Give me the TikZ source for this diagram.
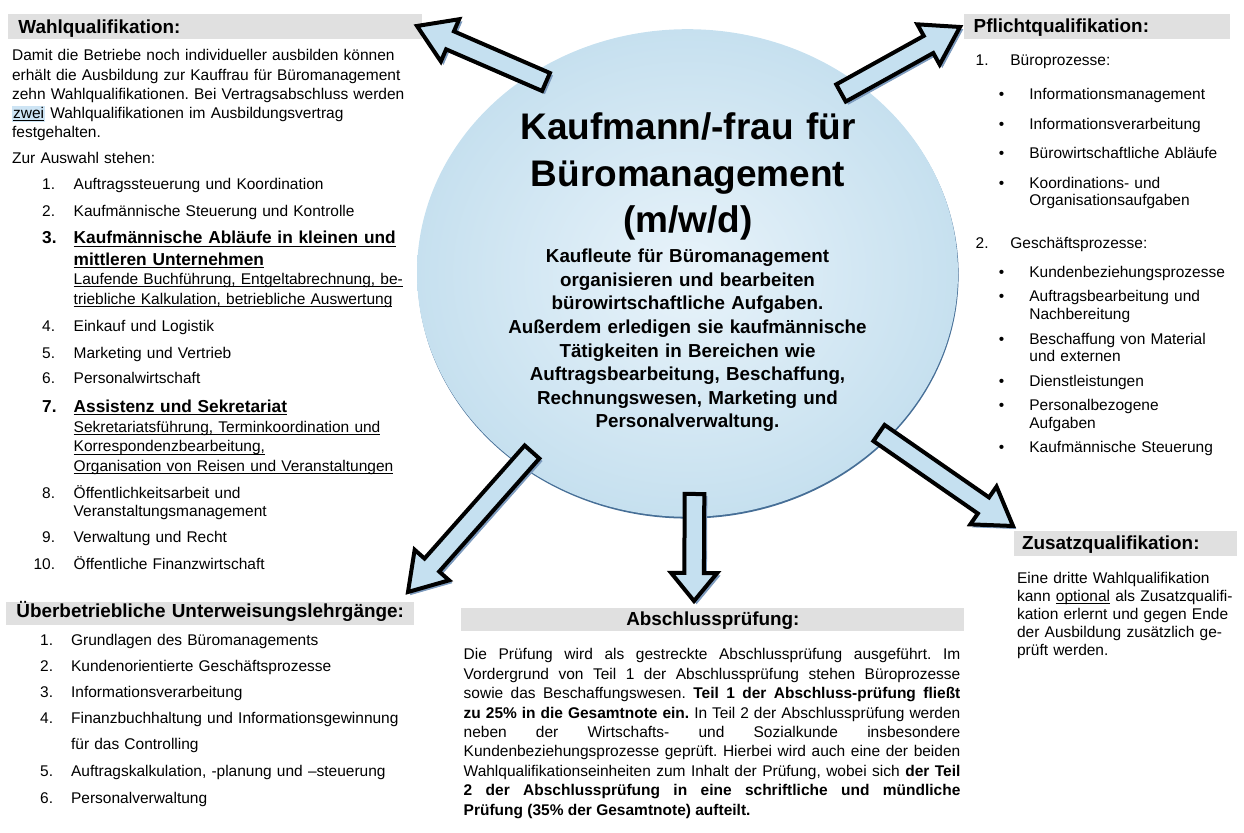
\documentclass[tikz,border=0pt]{standalone}
\usepackage{fontspec}
\setmainfont{Liberation Sans}
\usetikzlibrary{calc,shapes.geometric}

\definecolor{hdrgray}{RGB}{224,224,224}
\definecolor{arrowblue}{RGB}{197,224,240}
\definecolor{arrowshade}{RGB}{125,155,190}
\definecolor{hubin}{RGB}{232,243,250}
\definecolor{hubout}{RGB}{198,224,239}
\definecolor{hubshade}{RGB}{70,110,150}
\definecolor{zweiblue}{RGB}{205,228,244}

\hyphenpenalty=10000
\exhyphenpenalty=10000
\frenchspacing

\newcommand\bodyfont{\fontsize{7.75}{9.55}\selectfont}
\newcommand\hdrfont{\fontsize{9.45}{11}\selectfont\bfseries}
\newcommand\itemfont{\fontsize{8.65}{10.75}\selectfont\bfseries}
\newcommand\undl[1]{\leavevmode\setbox0\hbox{#1}\rlap{\rule[-1.3pt]{\wd0}{0.5pt}}\box0\relax}
\newcommand\shaftw{4.9pt}
\newcommand\headw{11.5pt}
% block arrow: tail, tip, head length
\newcommand\blockarrow[3]{%
  \coordinate (hb) at ($(#2)!#3!(#1)$);
  \filldraw[bigarrow] ($(#1)!\shaftw!90:(#2)$) -- ($(hb)!\shaftw!-90:(#1)$)
    -- ($(hb)!\headw!-90:(#1)$) -- (#2) -- ($(hb)!\headw!90:(#1)$)
    -- ($(hb)!\shaftw!90:(#1)$) -- ($(#1)!\shaftw!-90:(#2)$) -- cycle;}

\tikzset{
  hdr/.style={fill=hdrgray, anchor=north west, inner ysep=0pt, font=\hdrfont, align=left},
  txt/.style={anchor=base west, inner sep=0pt, font=\bodyfont, align=left, text width=240pt},
  num/.style={anchor=base east, inner sep=0pt, font=\bodyfont},
  bul/.style={anchor=base, inner sep=0pt, font=\bodyfont},
  bigarrow/.style={fill=arrowblue, draw=black, line width=2pt, line join=miter,
    preaction={fill=arrowshade, draw=arrowshade, transform canvas={shift={(1.3pt,-1.3pt)}}}},
  hub/.style={ellipse, inner sep=0pt, minimum width=270.5pt, minimum height=243.8pt,
    inner color=hubin, outer color=hubout,
    preaction={fill=hubshade, transform canvas={shift={(0.3pt,-0.9pt)}}}},
}

\begin{document}
\begin{tikzpicture}[x=0.5pt,y=-0.5pt]
\useasboundingbox (0,0) rectangle (1244,833);

% centre
\node[hub] (hub) at (687.5,273) {};
\node[anchor=base, inner sep=0pt, align=center, text width=260pt, font=\fontsize{18.5}{23.25}\selectfont\bfseries] (title) at (688,140)
  {Kaufmann/-frau für\\Büromanagement\\(m/w/d)};
\node[anchor=base, inner sep=0pt, align=center, text width=260pt, font=\fontsize{9.4}{11.8}\selectfont\bfseries] (desc) at (687.5,262.7)
  {Kaufleute für Büromanagement\\organisieren und bearbeiten\\bürowirtschaftliche Aufgaben.\\Außerdem erledigen sie kaufmännische\\Tätigkeiten in Bereichen wie\\Auftragsbearbeitung, Beschaffung,\\Rechnungswesen, Marketing und\\Personalverwaltung.};

% Wahlqualifikation
\node[hdr, inner xsep=5pt, text width=197pt, text height=9.35pt, text depth=3.15pt] (wahl) at (8,14) {Wahlqualifikation:};
\node[txt] (wahltext) at (11.7,61) {Damit die Betriebe noch individueller ausbilden können\\erhält die Ausbildung zur Kauffrau für Büromanagement\\zehn Wahlqualifikationen. Bei Vertragsabschluss werden\\{\setlength{\fboxsep}{0.5pt}\colorbox{zweiblue}{\undl{zwei}}} Wahlqualifikationen im Ausbildungsvertrag\\festgehalten.};
\node[txt] (auswahl) at (11.7,164) {Zur Auswahl stehen:};
\foreach \n/\y/\t in {1/189.3/Auftragssteuerung und Koordination, 2/216.7/Kaufmännische Steuerung und Kontrolle,
  4/331.7/Einkauf und Logistik, 5/358.3/Marketing und Vertrieb, 6/383.3/Personalwirtschaft,
  9/542.7/Verwaltung und Recht, 10/569.3/Öffentliche Finanzwirtschaft} {
  \node[num] (wn\n) at (55.5,\y) {\n.};
  \node[txt] (w\n) at (73.3,\y) {\t};
}
\node[num, font=\itemfont] (wn3) at (57,244) {3.};
\node[txt, font=\itemfont] (w3) at (73.3,244) {\undl{Kaufmännische Abläufe in kleinen und}\\\undl{mittleren Unternehmen}};
\node[txt, font=\fontsize{7.75}{10}\selectfont] (w3sub) at (73.3,284.5) {\undl{Laufende Buchführung, Entgeltabrechnung, be-}\\\undl{triebliche Kalkulation, betriebliche Auswertung}};
\node[num, font=\itemfont] (wn7) at (57,412.3) {7.};
\node[txt, font=\itemfont] (w7) at (73.3,412.3) {\undl{Assistenz und Sekretariat}};
\node[txt, font=\fontsize{7.75}{9.75}\selectfont] (w7sub) at (73.3,432.5) {\undl{Sekretariatsführung, Terminkoordination und}\\\undl{Korrespondenzbearbeitung,}\\\undl{Organisation von Reisen und Veranstaltungen}};
\node[num] (wn8) at (55.5,498.3) {8.};
\node[txt, font=\fontsize{7.75}{9.2}\selectfont] (w8) at (73.3,498.3) {Öffentlichkeitsarbeit und\\Veranstaltungsmanagement};

% Ueberbetriebliche Unterweisung
\node[hdr, inner xsep=5pt, text width=194pt, text height=7.5pt, text depth=4.15pt] (ueber) at (6,601.7) {Überbetriebliche Unterweisungslehrgänge:};
\foreach \n/\y/\t in {1/645.7/Grundlagen des Büromanagements, 2/671.7/Kundenorientierte Geschäftsprozesse,
  3/697.7/Informationsverarbeitung, 4/724/Finanzbuchhaltung und Informationsgewinnung,
  5/776.7/{Auftragskalkulation, -planung und –steuerung}, 6/803.3/Personalverwaltung} {
  \node[num] (un\n) at (53.5,\y) {\n.};
  \node[txt] (u\n) at (70.7,\y) {\t};
}
\node[txt] (u4b) at (70.7,750) {für das Controlling};

% Pflichtqualifikation
\node[hdr, inner xsep=5pt, text width=123.3pt, text height=8.85pt, text depth=3.65pt] (pflicht) at (963.3,14) {Pflichtqualifikation:};
\node[num] (pn1) at (989,66) {1.};
\node[txt] (p1) at (1010,66) {Büroprozesse:};
\foreach \y/\t [count=\i] in {100/Informationsmanagement, 130/Informationsverarbeitung,
  159/Bürowirtschaftliche Abläufe, 188.3/{Koordinations- und\\Organisationsaufgaben}} {
  \node[bul] (pa\i) at (1001.7,\y) {\textbullet};
  \node[txt, font=\fontsize{7.75}{8.6}\selectfont] (pb\i) at (1029,\y) {\t};
}
\node[num] (pn2) at (989,248.3) {2.};
\node[txt] (p2) at (1010,248.3) {Geschäftsprozesse:};
\foreach \y/\t [count=\i] in {277.3/Kundenbeziehungsprozesse, 301.7/{Auftragsbearbeitung und\\Nachbereitung},
  344.3/{Beschaffung von Material\\und externen}, 386.7/Dienstleistungen,
  410.7/{Personalbezogene\\Aufgaben}, 452.7/Kaufmännische Steuerung} {
  \node[bul] (pc\i) at (1001.7,\y) {\textbullet};
  \node[txt, font=\fontsize{7.75}{8.8}\selectfont] (pd\i) at (1029,\y) {\t};
}

% Zusatzqualifikation
\node[hdr, inner xsep=4.2pt, text width=103.3pt, text height=9pt, text depth=3.35pt] (zusatz) at (1013.3,531) {Zusatzqualifikation:};
\node[txt, font=\fontsize{7.75}{9}\selectfont] (zusatztext) at (1016.7,583.3) {Eine dritte Wahlqualifikation\\kann \undl{optional} als Zusatzqualifi-\\kation erlernt und gegen Ende\\der Ausbildung zusätzlich ge-\\prüft werden.};

% Abschlusspruefung
\node[hdr, align=center, inner xsep=5pt, text width=241.5pt, text height=8.85pt, text depth=3pt] (absch) at (461,607.3) {Abschlussprüfung:};
\node[txt, align=justify, text width=248.35pt, font=\fontsize{7.75}{9.7}\selectfont] (abschtext) at (463.3,660)
  {Die Prüfung wird als gestreckte Abschlussprüfung ausgeführt. Im\linebreak
  Vordergrund von Teil 1 der Abschlussprüfung stehen Büroprozesse\linebreak
  sowie das Beschaffungswesen. \textbf{Teil 1 der Abschluss-prüfung fließt}\linebreak
  \textbf{zu 25\% in die Gesamtnote ein.} In Teil 2 der Abschlussprüfung werden\linebreak
  neben der Wirtschafts- und Sozialkunde insbesondere\linebreak
  Kundenbeziehungsprozesse geprüft. Hierbei wird auch eine der beiden\linebreak
  Wahlqualifikationseinheiten zum Inhalt der Prüfung, wobei sich \textbf{der Teil}\linebreak
  \textbf{2 der Abschlussprüfung in eine schriftliche und mündliche}\linebreak
  \textbf{Prüfung (35\% der Gesamtnote) aufteilt.}};

% arrows
\coordinate (tl0) at (546,82);    \coordinate (tl1) at (417,26);
\coordinate (tr0) at (841,93);    \coordinate (tr1) at (960,27);
\coordinate (br0) at (879,433);   \coordinate (br1) at (1013,526);
\coordinate (bt0) at (694.5,494); \coordinate (bt1) at (694,601);
\coordinate (bl0) at (532,452);   \coordinate (bl1) at (408,592);
\blockarrow{tl0}{tl1}{18pt}
\blockarrow{tr0}{tr1}{18pt}
\blockarrow{br0}{br1}{18pt}
\blockarrow{bt0}{bt1}{14pt}
\blockarrow{bl0}{bl1}{18pt}
\end{tikzpicture}
\end{document}
